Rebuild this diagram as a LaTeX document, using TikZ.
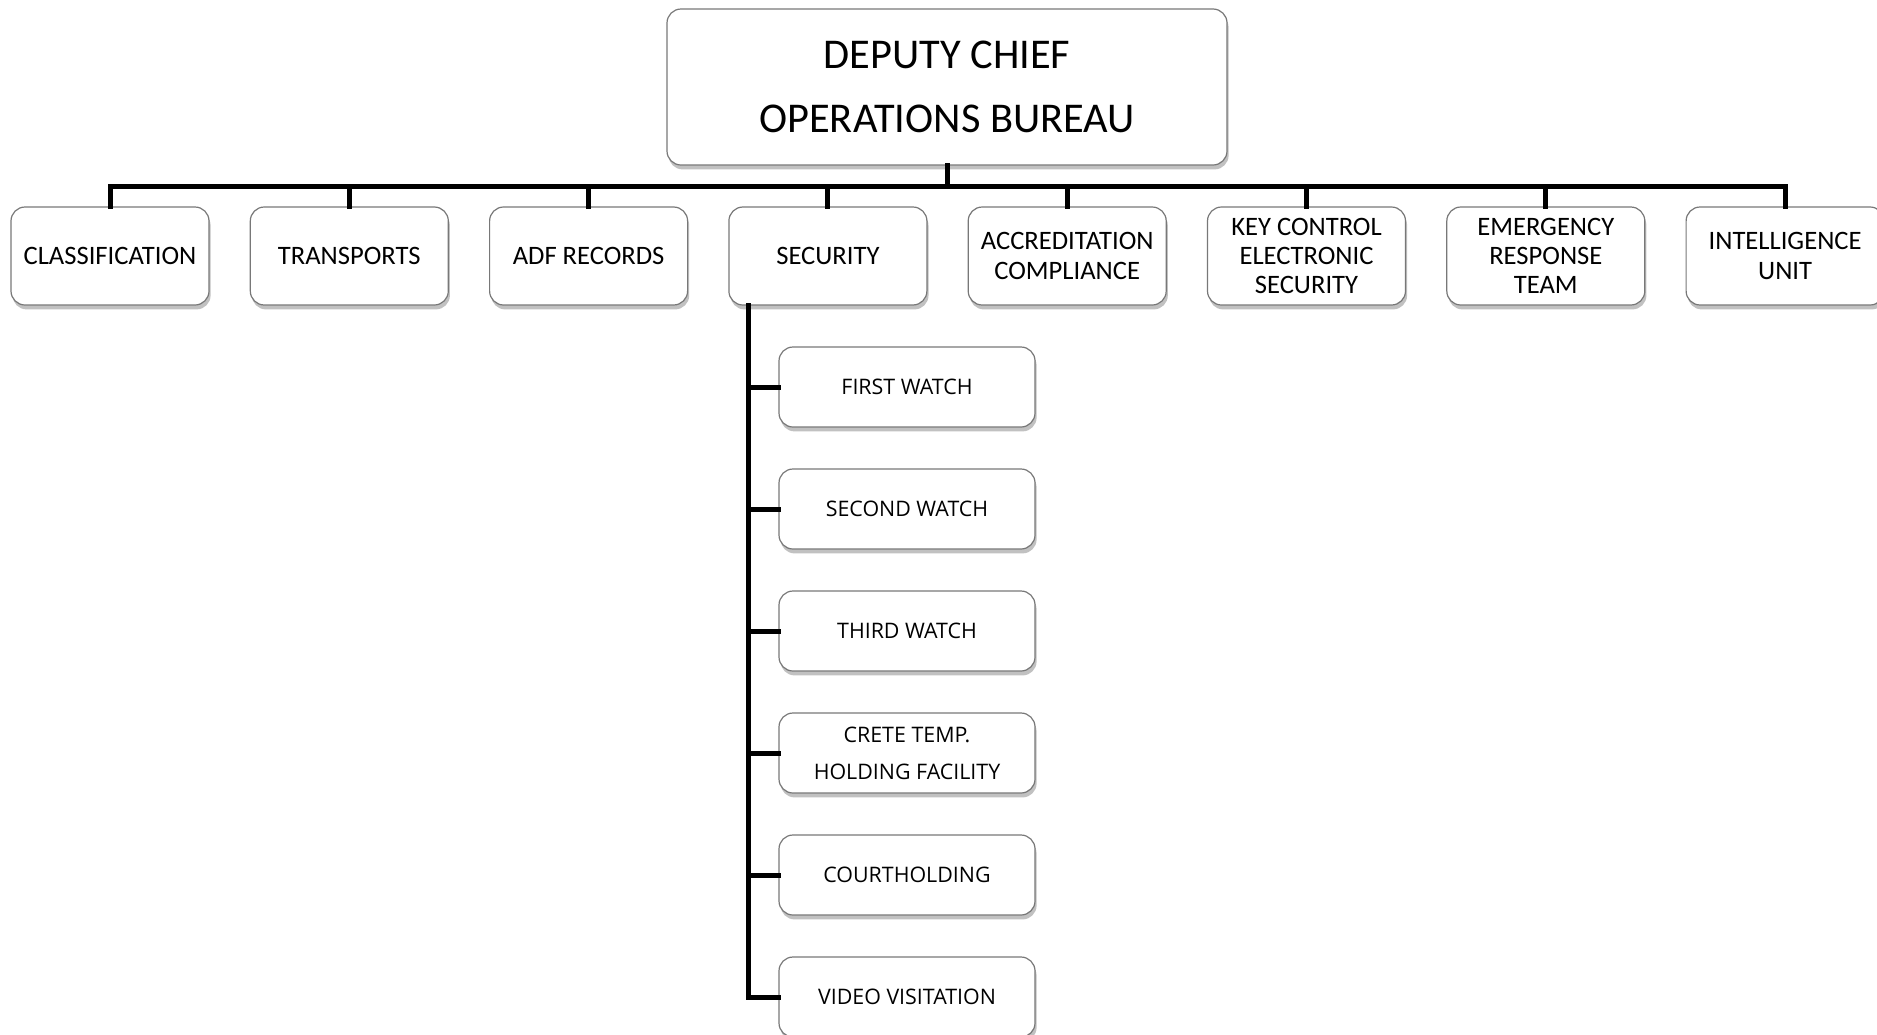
\documentclass[tikz,border=0pt]{standalone}
\usepackage{fontspec}
\setmainfont{Carlito}
\newfontfamily\watchfont{Open Sans}
\usetikzlibrary{shadows}
\definecolor{boxline}{RGB}{120,120,120}
\tikzset{
    unit/.style={draw=boxline,line width=0.6pt,fill=white,rounded corners=7pt,
        align=center,drop shadow={shadow xshift=0.8pt,shadow yshift=-2.2pt,opacity=0.35,fill=black!70}},
    wire/.style={line width=2.5pt,line cap=rect}
}
\begin{document}
\begin{tikzpicture}[x=0.5pt,y=-0.5pt]
        \useasboundingbox (0,0) rectangle (1877,1034);
        % head of the bureau
        \node[unit,minimum width=280pt,minimum height=78pt,font=\fontsize{21.2}{32}\selectfont] (chief) at (947,87) {DEPUTY CHIEF\\OPERATIONS BUREAU};
        \coordinate (bus) at (947,186);
        % units on the first level
        \foreach \n/\t [count=\i from 0] in {class/CLASSIFICATION,trans/TRANSPORTS,adf/ADF RECORDS,sec/SECURITY,
            accr/{ACCREDITATION\\COMPLIANCE},key/{KEY CONTROL\\ELECTRONIC\\SECURITY},ert/{EMERGENCY\\RESPONSE\\TEAM},intel/{INTELLIGENCE\\UNIT}}
        {
            \node[unit,minimum width=99pt,minimum height=49pt,font=\fontsize{13.3}{14.6}\selectfont] (\n) at (110+239.3*\i,256) {\t};
            \draw[wire] (\n.north) -- (\n.north |- bus);
        }
        \draw[wire] (chief.south) -- (bus);
        \draw[wire] (class.north |- bus) -- (intel.north |- bus);
        % watches under security
        \coordinate (secline) at ([xshift=10pt]sec.south west);
        \foreach \n/\t [count=\i from 0] in {first/FIRST WATCH,second/SECOND WATCH,third/THIRD WATCH,
            crete/{CRETE TEMP.\\HOLDING FACILITY},court/COURTHOLDING,video/VIDEO VISITATION}
        {
            \node[unit,minimum width=128pt,minimum height=40pt,font=\watchfont\fontsize{10.7}{18.5}\selectfont] (\n) at (907,387+122*\i) {\t};
            \draw[wire] (\n.west) -- (\n.west -| secline);
        }
        \draw[wire] (secline) -- (secline |- video.west);
    \end{tikzpicture}
\end{document}
